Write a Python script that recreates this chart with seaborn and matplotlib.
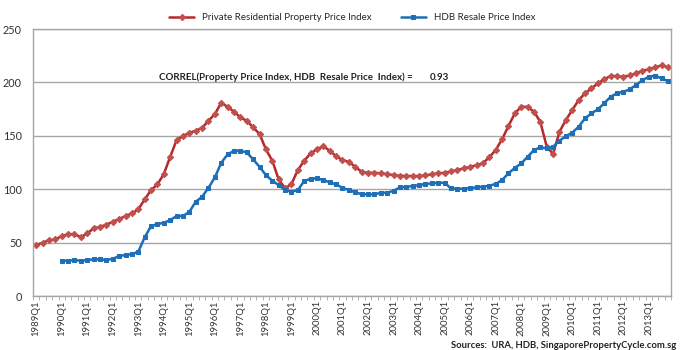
import numpy as np
import pandas as pd
import matplotlib
matplotlib.use("Agg")
import matplotlib.pyplot as plt
import seaborn as sns

# quarters 1989Q1 .. 2013Q4
quarters = [f"{y}Q{q}" for y in range(1989, 2014) for q in range(1, 5)]

private_ppi = [
    47.8, 49.9, 52.4, 53.0, 56.2, 58.0, 58.0, 55.0, 58.7, 63.4,
    64.9, 66.8, 69.6, 72.1, 74.9, 77.4, 81.2, 90.5, 99.2, 104.6,
    114.2, 130.4, 146.0, 149.8, 152.9, 154.8, 157.6, 164.1, 170.4, 181.0,
    177.2, 172.6, 167.3, 164.1, 158.0, 151.7, 137.4, 126.7, 109.3, 100.8,
    104.9, 118.0, 126.7, 133.6, 137.4, 140.4, 136.0, 131.0, 127.3, 125.7,
    121.0, 116.4, 115.4, 115.4, 114.9, 114.2, 113.3, 112.6, 112.4, 112.4,
    112.4, 113.0, 114.0, 114.9, 115.4, 116.8, 118.0, 119.6, 121.0, 122.5,
    124.5, 129.9, 136.7, 146.7, 159.2, 171.0, 177.2, 177.2, 172.6, 163.2,
    139.9, 133.0, 153.9, 164.8, 174.2, 183.5, 189.8, 194.4, 199.1, 202.9,
    206.0, 206.0, 205.3, 206.6, 208.5, 211.0, 212.3, 214.1, 216.0, 214.1,
]

hdb_rpi = [
    np.nan, np.nan, np.nan, np.nan, 33.0, 33.0, 33.7, 33.0, 33.7, 34.4,
    34.4, 33.7, 34.9, 37.5, 38.4, 39.3, 41.5, 55.0, 65.5, 67.4,
    68.6, 71.2, 74.9, 74.9, 78.9, 88.3, 93.0, 101.4, 111.1, 124.8,
    132.7, 136.0, 136.0, 134.5, 128.0, 121.0, 113.3, 108.0, 103.9, 99.2,
    97.7, 99.2, 107.7, 109.8, 110.2, 108.6, 106.5, 104.5, 101.4, 99.2,
    97.1, 95.5, 95.2, 95.2, 96.7, 96.7, 98.6, 101.8, 102.3, 103.0,
    103.9, 104.9, 105.5, 106.1, 106.1, 100.8, 100.5, 100.5, 101.1, 101.8,
    102.4, 103.3, 105.0, 108.6, 114.9, 120.0, 124.2, 130.4, 136.7, 139.2,
    138.3, 139.9, 145.4, 149.8, 153.0, 158.5, 166.4, 171.0, 174.8, 180.4,
    186.6, 189.8, 191.3, 193.5, 197.6, 202.2, 205.3, 206.3, 203.8, 201.3,
]

correl_value = 0.93

df = pd.DataFrame({"quarter": quarters, "private": private_ppi, "hdb": hdb_rpi})
df["pos"] = np.arange(len(df))

sns.set_style("white")
plt.rcParams["font.family"] = ["Lato", "DejaVu Sans"]

fig = plt.figure(figsize=(6.8, 3.5), dpi=100)
ax = fig.add_axes([0.0485, 0.154, 0.9385, 0.763])

sns.lineplot(data=df, x="pos", y="private", ax=ax, color="#B8282B", lw=1.8,
             marker="D", markersize=3.2, markerfacecolor="#C0504D",
             markeredgecolor="#C0504D", label="Private Residential Property Price Index")
hdb = df.dropna(subset=["hdb"])
sns.lineplot(data=hdb, x="pos", y="hdb", ax=ax, color="#1A6FBA", lw=1.8,
             marker="s", markersize=3.4, markerfacecolor="#1F6FB8",
             markeredgecolor="#1F6FB8", label="HDB Resale Price Index")

ax.set_xlim(-0.5, len(df) - 0.5)
ax.set_ylim(0, 250)
ax.set_yticks([0, 50, 100, 150, 200, 250])
ax.yaxis.grid(True, color="#A6A6A6", lw=1)
ax.set_axisbelow(True)
ax.set_xlabel("")
ax.set_ylabel("")

ax.set_xticks(df["pos"][::4])
ax.set_xticklabels(df["quarter"][::4], rotation=90, fontsize=6.8, color="#333333")
ax.set_xticks(np.arange(-0.5, len(df), 1), minor=True)
ax.tick_params(axis="x", which="major", length=0, pad=3)
ax.tick_params(axis="x", which="minor", length=3, color="#A6A6A6", direction="out", bottom=True)
ax.tick_params(axis="y", labelsize=7.8, length=0, pad=8, colors="#333333")

for s in ax.spines.values():
    s.set_color("#A6A6A6")
    s.set_linewidth(1)

ax.legend(loc="lower center", bbox_to_anchor=(0.5, 1.0), ncol=2, frameon=False,
          fontsize=7, handlelength=2.6, columnspacing=3.0, borderaxespad=0.3)

ax.text(0.198, 0.82, "CORREL(Property Price Index, HDB  Resale Price  Index) =", transform=ax.transAxes,
        fontsize=7, fontweight="bold", color="#222222", va="center")
ax.text(0.622, 0.82, f"{correl_value:.2f}", transform=ax.transAxes,
        fontsize=7, fontweight="bold", color="#222222", va="center")

fig.text(0.995, 0.006, "Sources:  URA, HDB, SingaporePropertyCycle.com.sg", ha="right",
         fontsize=6.8, fontweight="bold", color="#222222")

fig.savefig("out.png", dpi=100)
